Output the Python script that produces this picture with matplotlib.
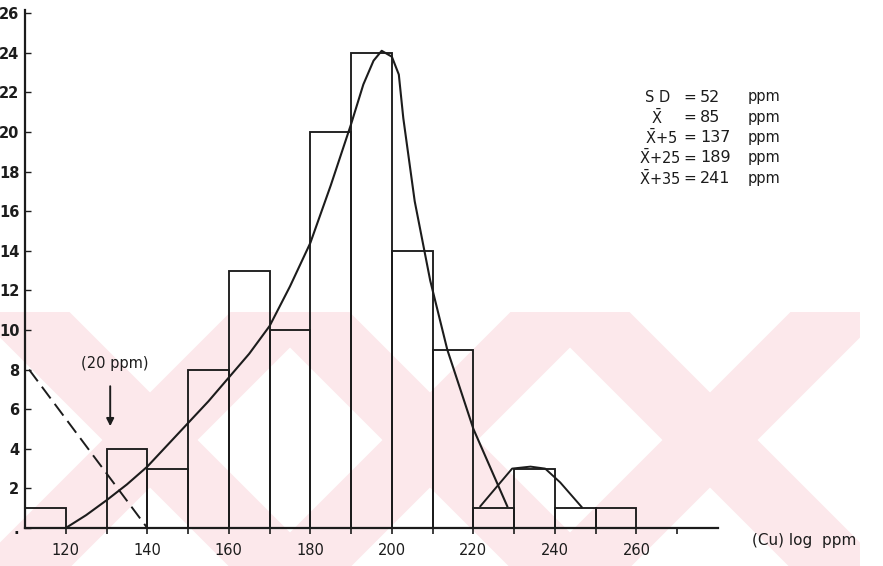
import matplotlib.pyplot as plt
from matplotlib.patches import Polygon, Rectangle

# ---- histogram data (Cu, log ppm classes of width 10) ----
bin_left = [110, 120, 130, 140, 150, 160, 170, 180, 190, 200, 210, 220, 230, 240, 250]
counts = [1, 0, 4, 3, 8, 13, 10, 20, 24, 14, 9, 1, 3, 1, 1]

# main fitted curve
curve_x = [120, 125, 130, 135, 140, 145, 150, 155, 160, 165, 170, 175, 180,
           185, 190, 193, 195.5, 197.5, 200, 201.7, 202.8, 205.6, 209.4,
           213.6, 220, 228.3]
curve_y = [0, 0.65, 1.4, 2.2, 3.1, 4.2, 5.3, 6.4, 7.6, 8.8, 10.2, 12.2, 14.4,
           17.3, 20.4, 22.4, 23.6, 24.1, 23.8, 22.9, 20.7, 16.5, 12.5,
           9.0, 5.0, 1.1]

# small secondary population
small_x = [221.7, 225.8, 229.5, 234, 237.6, 241.3, 246.6]
small_y = [1.1, 2.1, 3.0, 3.1, 3.0, 2.3, 1.05]

# dashed background line
dash_x = [111, 140]
dash_y = [8, 0]

y_ticks = list(range(0, 27, 2))
y_labels = ["."] + [str(v) for v in y_ticks[1:]]
x_ticks = [120, 140, 160, 180, 200, 220, 240, 260]

stats_names = ["S D", r"$\bar{\mathrm{X}}$", r"$\bar{\mathrm{X}}$+5",
               r"$\bar{\mathrm{X}}$+25", r"$\bar{\mathrm{X}}$+35"]
stats_values = ["52", "85", "137", "189", "241"]

ink = "#1c1c1c"
W, H = 883, 566

fig = plt.figure(figsize=(W / 100, H / 100), dpi=100)
plt.rcParams["mathtext.fontset"] = "dejavusans"

# faint pink watermark behind the chart
wm = fig.add_axes([0, 0, 1, 1], zorder=0)
wm.set_xlim(0, W)
wm.set_ylim(H, 0)
wm.axis("off")
top, bot, cy, bw = 312, H, 440, 95
for cx in [150, 430, 710]:
    clip = Rectangle((cx - 150, top), 300, bot - top, transform=wm.transData)
    for s in (1, -1):
        pts = [(cx + s * (top - cy) - bw / 2, top), (cx + s * (top - cy) + bw / 2, top),
               (cx + s * (bot - cy) + bw / 2, bot), (cx + s * (bot - cy) - bw / 2, bot)]
        p = Polygon(pts, closed=True, facecolor="#fce8eb", edgecolor="none")
        wm.add_patch(p)
        p.set_clip_path(clip)

ax = fig.add_axes([25 / W, (H - 528) / H, (718 - 25) / W, (528 - 10) / H], zorder=1)
ax.set_facecolor("none")

ax.bar(bin_left, counts, width=10, align="edge", fill=False,
       edgecolor=ink, linewidth=1.35, zorder=2)
ax.plot(curve_x, curve_y, color=ink, linewidth=1.5, zorder=3)
ax.plot(small_x, small_y, color=ink, linewidth=1.4, zorder=3)
ax.plot(dash_x, dash_y, color=ink, linewidth=1.4, linestyle=(0, (7.5, 3.5)), zorder=3)

ax.annotate("", xy=(130.9, 5.0), xytext=(130.9, 7.3),
            arrowprops=dict(arrowstyle="-|>", color=ink, lw=1.4, mutation_scale=11))
ax.text(132, 8.3, "(20 ppm)", ha="center", va="center", fontsize=10.5, color=ink)

ax.set_xlim(110, 280)
ax.set_ylim(0, 26.16)
for side in ["top", "right"]:
    ax.spines[side].set_visible(False)
for side in ["left", "bottom"]:
    ax.spines[side].set_linewidth(1.6)
    ax.spines[side].set_color(ink)

ax.set_yticks(y_ticks)
ax.set_yticklabels(y_labels, fontsize=10.5, fontweight="bold", color=ink)
ax.tick_params(axis="y", direction="in", length=4, width=1, pad=4, colors=ink)
ax.set_xticks(x_ticks)
ax.set_xticklabels([str(v) for v in x_ticks], fontsize=10.5, color=ink)
ax.set_xticks([130, 150, 170, 190, 210, 230, 250, 270], minor=True)
ax.tick_params(axis="x", which="both", direction="out", length=4, width=1.2,
               pad=7, colors=ink)

fig.text(752 / W, 1 - 541 / H, "(Cu) log  ppm", ha="left", va="center",
         fontsize=11, color=ink)

# statistics block
name_x = [658, 657, 661, 660, 660]
for i, (name, val) in enumerate(zip(stats_names, stats_values)):
    yy = 1 - (97 + 20.3 * i) / H
    fig.text(name_x[i] / W, yy, name, ha="center", va="center", fontsize=10.5, color=ink)
    fig.text(690 / W, yy, "=", ha="center", va="center", fontsize=11, color=ink)
    fig.text(700 / W, yy, val, ha="left", va="center", fontsize=11.5, color=ink)
    fig.text(748 / W, yy, "ppm", ha="left", va="center", fontsize=10.5, color=ink)

fig.savefig("out.png", dpi=100)
